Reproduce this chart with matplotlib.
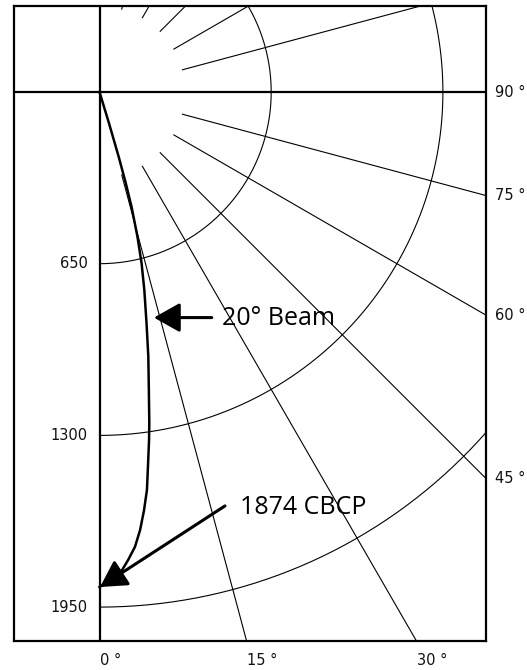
import numpy as np
import matplotlib
matplotlib.use('Agg')
import matplotlib.pyplot as plt

# beam candela distribution (angle from nadir in degrees, candela)
beam_angle = [0, 1.4, 2.7, 3.5, 4.46, 5.3, 6.08, 6.8, 7.37, 8.1, 8.55, 9.4,
              10.45, 11.5, 12.75, 13.8, 14.7, 15.6, 16.1, 16.5, 16.9, 17.2]
beam_cd = [1874, 1848, 1812, 1775, 1727, 1665, 1592, 1517, 1430, 1331, 1268, 1144,
           1019, 893, 769, 668, 566, 451, 354, 255, 124, 0]

ring_cd = [650, 1300, 1950]
ring_labels = ['650', '1300', '1950']
spoke_deg = [15, 30, 45, 60, 75, 105, 120, 135, 150, 165]
bottom_deg = [0, 15, 30]
bottom_labels = ['0 °', '15 °', '30 °']
right_deg = [90, 75, 60, 45]
right_labels = ['90 °', '75 °', '60 °', '45 °']

# pixel frame of the plotting box (527x670 canvas)
W, H = 527, 670
left, right, top, bottom = 14, 486, 6, 641
cx, cy = 99.5, 92
scale = 650 / 171.7  # candela per pixel

xmin = (left - cx) * scale
xmax = (right - cx) * scale
ymax = (cy - top) * scale
ymin = -(bottom - cy) * scale

fig = plt.figure(figsize=(W / 100, H / 100), dpi=100)
ax = fig.add_axes([left / W, (H - bottom) / H, (right - left) / W, (bottom - top) / H])
ax.set_xlim(xmin, xmax)
ax.set_ylim(ymin, ymax)
ax.set_xticks([]); ax.set_yticks([])
for s in ax.spines.values():
    s.set_linewidth(1.6)

def polar(cd, deg):
    t = np.radians(np.asarray(deg, dtype=float))
    cd = np.asarray(cd, dtype=float)
    return cd * np.sin(t), -cd * np.cos(t)

# rings
th = np.linspace(0, 180, 400)
for r in ring_cd:
    x, y = polar(np.full_like(th, r), th)
    ax.plot(x, y, color='black', lw=0.8)

# spokes, starting at half of the first ring
for d in spoke_deg:
    x, y = polar([ring_cd[0] / 2, 5000], [d, d])
    ax.plot(x, y, color='black', lw=0.8)

# main axes lines
ax.axhline(0, color='black', lw=1.6)
ax.axvline(0, color='black', lw=1.6)

# beam curve
bx, by = polar(beam_cd, beam_angle)
ax.plot(bx, by, color='black', lw=1.8, solid_joinstyle='round')

lab = dict(fontsize=10.5, color='#111111', family='DejaVu Sans')
for r, t in zip(ring_cd, ring_labels):
    ax.annotate(t, xy=(0, -r), xytext=(-8.5, 0), textcoords='offset points',
                ha='right', va='center', annotation_clip=False, **lab)
for d, t in zip(bottom_deg, bottom_labels):
    ax.annotate(t, xy=(-ymin * np.tan(np.radians(d)), ymin), xytext=(0.5, -14),
                textcoords='offset points', ha='left', va='center',
                annotation_clip=False, **lab)
for d, t in zip(right_deg, right_labels):
    yy = -xmax / np.tan(np.radians(d)) if d != 90 else 0.0
    ax.annotate(t, xy=(xmax, yy), xytext=(6.5, 0), textcoords='offset points',
                ha='left', va='center', annotation_clip=False, **lab)

arrow = dict(arrowstyle='-|>,head_length=0.8,head_width=0.45', mutation_scale=20,
             lw=2.2, color='black', shrinkA=0, shrinkB=0)
ax.annotate('', xy=(206, -854), xytext=(425, -854), arrowprops=arrow)
ax.annotate('', xy=(2, -beam_cd[0]), xytext=(475, -1567), arrowprops=arrow)

big = dict(fontsize=18, color='black', family='Open Sans')
ax.text(462, -882, '20° Beam', ha='left', va='baseline', **big)
ax.text(532, -1598, '1874 CBCP', ha='left', va='baseline', **big)

fig.savefig('out.png', dpi=100, facecolor='white')
